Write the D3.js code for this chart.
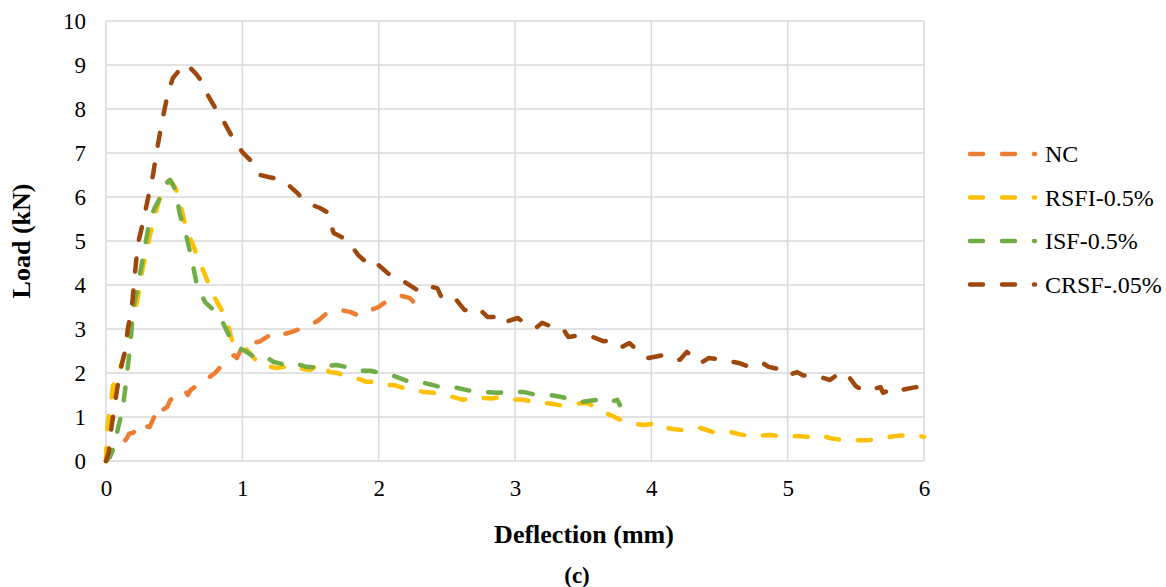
<!DOCTYPE html>
<html>
<head>
<meta charset="utf-8">
<script src="https://cdn.jsdelivr.net/npm/d3@7"></script>
<style>
  body { margin: 0; background: #fff; }
  text { font-family: "Liberation Serif", "Times New Roman", serif; fill: #000; }
</style>
</head>
<body>
<div id="chart"></div>
<script>
// Series names and colours
const seriesNames = ['NC', 'RSFI-0.5%', 'ISF-0.5%', 'CRSF-.05%'];
const seriesColors = ['#ED7D31', '#FFC000', '#70AD47', '#9E480E'];

// Tick values
const xTicks = [0, 1, 2, 3, 4, 5, 6];
const yTicks = [0, 1, 2, 3, 4, 5, 6, 7, 8, 9, 10];

// [deflection mm, load kN]
const ncData = [[0,0],[0.02,0.15],[0.05,0.25],[0.08,0.3],[0.1,0.45],[0.12,0.41],[0.15,0.5],[0.17,0.62],[0.2,0.64],[0.23,0.75],[0.25,0.86],[0.28,0.8],[0.32,0.77],[0.35,0.98],[0.37,1.09],[0.39,1.0],[0.41,1.15],[0.45,1.23],[0.47,1.38],[0.49,1.43],[0.52,1.5],[0.54,1.55],[0.58,1.6],[0.6,1.5],[0.62,1.61],[0.66,1.7],[0.69,1.77],[0.72,1.85],[0.76,1.91],[0.8,2.0],[0.84,2.14],[0.88,2.25],[0.91,2.36],[0.94,2.4],[0.96,2.34],[1.0,2.6],[1.03,2.62],[1.08,2.68],[1.13,2.72],[1.18,2.82],[1.22,2.9],[1.25,2.93],[1.3,2.88],[1.36,2.93],[1.42,3.0],[1.5,3.09],[1.56,3.2],[1.62,3.36],[1.67,3.4],[1.72,3.43],[1.79,3.39],[1.86,3.3],[1.9,3.38],[1.94,3.43],[2.0,3.5],[2.07,3.66],[2.11,3.7],[2.17,3.75],[2.23,3.7],[2.3,3.47]];

const rsfiData = [[0,0],[0.005,0.5],[0.01,0.77],[0.02,1.0],[0.03,1.23],[0.04,1.4],[0.05,1.7],[0.08,1.9],[0.12,2.25],[0.15,2.6],[0.18,2.95],[0.2,3.3],[0.23,3.65],[0.25,4.0],[0.27,4.4],[0.3,4.8],[0.32,5.1],[0.36,5.6],[0.41,6.15],[0.45,6.3],[0.48,6.35],[0.51,6.2],[0.54,5.93],[0.57,5.5],[0.6,5.18],[0.64,4.9],[0.67,4.64],[0.71,4.35],[0.75,4.05],[0.8,3.7],[0.86,3.36],[0.89,3.14],[0.93,2.68],[0.97,2.64],[1.0,2.64],[1.04,2.5],[1.08,2.36],[1.13,2.18],[1.2,2.15],[1.25,2.11],[1.3,2.14],[1.35,2.07],[1.42,2.1],[1.5,2.07],[1.57,2.23],[1.64,2.02],[1.7,2.0],[1.77,1.91],[1.84,1.88],[1.91,1.8],[1.99,1.8],[2.06,1.73],[2.12,1.72],[2.18,1.66],[2.25,1.62],[2.33,1.57],[2.4,1.55],[2.47,1.52],[2.55,1.45],[2.62,1.39],[2.7,1.45],[2.77,1.43],[2.83,1.42],[2.89,1.45],[2.97,1.4],[3.06,1.39],[3.13,1.35],[3.2,1.32],[3.27,1.3],[3.33,1.27],[3.43,1.3],[3.53,1.32],[3.6,1.2],[3.68,1.07],[3.79,0.91],[3.87,0.85],[3.94,0.82],[4.0,0.84],[4.06,0.86],[4.11,0.75],[4.17,0.72],[4.23,0.7],[4.3,0.73],[4.36,0.75],[4.45,0.66],[4.52,0.68],[4.58,0.66],[4.66,0.6],[4.75,0.55],[4.81,0.58],[4.87,0.59],[4.95,0.56],[5.02,0.55],[5.08,0.57],[5.14,0.55],[5.24,0.59],[5.31,0.52],[5.39,0.48],[5.46,0.48],[5.54,0.47],[5.61,0.48],[5.68,0.52],[5.75,0.55],[5.83,0.58],[5.92,0.59],[6.0,0.55]];

const isfData = [[0,0],[0.03,0.1],[0.05,0.25],[0.07,0.5],[0.09,0.77],[0.12,1.16],[0.14,1.61],[0.16,2.14],[0.18,2.68],[0.2,3.5],[0.23,3.89],[0.25,4.27],[0.29,4.95],[0.32,5.48],[0.36,5.77],[0.4,6.0],[0.45,6.34],[0.47,6.39],[0.51,6.16],[0.54,5.63],[0.59,5.1],[0.63,4.57],[0.67,3.95],[0.73,3.6],[0.79,3.43],[0.84,3.25],[0.88,3.0],[0.91,2.8],[0.96,2.6],[1.03,2.48],[1.08,2.38],[1.15,2.41],[1.23,2.25],[1.3,2.2],[1.35,2.16],[1.41,2.2],[1.47,2.14],[1.55,2.12],[1.62,2.16],[1.69,2.18],[1.79,2.12],[1.86,2.05],[1.94,2.05],[2.01,2.0],[2.08,1.97],[2.14,1.9],[2.21,1.82],[2.3,1.8],[2.38,1.74],[2.45,1.68],[2.55,1.68],[2.65,1.61],[2.74,1.57],[2.81,1.56],[2.87,1.55],[2.96,1.57],[3.06,1.57],[3.16,1.5],[3.26,1.5],[3.35,1.45],[3.42,1.38],[3.48,1.34],[3.6,1.39],[3.68,1.32],[3.75,1.39],[3.77,1.27]];

const crsfData = [[0,0],[0.02,0.2],[0.04,0.77],[0.06,1.2],[0.08,1.6],[0.1,2.0],[0.14,2.5],[0.16,3.0],[0.19,3.5],[0.21,4.2],[0.235,4.95],[0.27,5.4],[0.31,6.0],[0.345,6.5],[0.37,7.0],[0.41,7.7],[0.45,8.3],[0.49,8.7],[0.55,8.93],[0.6,8.84],[0.62,8.93],[0.66,8.8],[0.71,8.6],[0.75,8.3],[0.81,7.98],[0.87,7.68],[0.93,7.34],[1.0,7.02],[1.08,6.77],[1.13,6.5],[1.2,6.45],[1.28,6.4],[1.34,6.27],[1.4,6.1],[1.45,5.93],[1.51,5.82],[1.57,5.75],[1.62,5.66],[1.67,5.18],[1.77,5.02],[1.85,4.68],[1.96,4.38],[2.0,4.45],[2.1,4.18],[2.17,4.11],[2.28,3.89],[2.32,4.0],[2.43,3.93],[2.47,3.66],[2.57,3.66],[2.63,3.43],[2.73,3.48],[2.8,3.27],[2.89,3.27],[2.91,3.14],[3.02,3.25],[3.06,3.16],[3.15,3.02],[3.2,3.14],[3.27,3.05],[3.35,3.02],[3.39,2.82],[3.48,2.86],[3.57,2.82],[3.65,2.72],[3.72,2.75],[3.79,2.6],[3.84,2.68],[3.92,2.45],[3.98,2.34],[4.09,2.41],[4.14,2.34],[4.21,2.3],[4.26,2.48],[4.36,2.22],[4.42,2.34],[4.53,2.3],[4.65,2.22],[4.72,2.14],[4.82,2.22],[4.86,2.14],[4.96,2.07],[5.0,1.95],[5.07,2.02],[5.11,1.95],[5.24,1.91],[5.31,1.84],[5.39,2.02],[5.44,1.95],[5.5,1.7],[5.55,1.61],[5.6,1.61],[5.68,1.68],[5.7,1.55],[5.79,1.66],[5.83,1.61],[5.94,1.68],[5.99,1.66]];

const allSeries = [ncData, rsfiData, isfData, crsfData];

// Layout
const W = 1166, H = 587;
const margin = { top: 21, left: 106 };
const plotW = 818, plotH = 440;

const svg = d3.select('#chart').append('svg')
  .attr('width', W)
  .attr('height', H);

const g = svg.append('g')
  .attr('transform', `translate(${margin.left},${margin.top})`);

const x = d3.scaleLinear().domain([0, 6]).range([0, plotW]);
const y = d3.scaleLinear().domain([0, 10]).range([plotH, 0]);

// Gridlines
g.selectAll('.hgrid')
  .data(yTicks)
  .enter()
  .append('line')
  .attr('x1', 0).attr('x2', plotW)
  .attr('y1', d => y(d)).attr('y2', d => y(d))
  .attr('stroke', '#d9d9d9')
  .attr('stroke-width', 1.5);

g.selectAll('.vgrid')
  .data(xTicks)
  .enter()
  .append('line')
  .attr('x1', d => x(d)).attr('x2', d => x(d))
  .attr('y1', 0).attr('y2', plotH)
  .attr('stroke', '#d9d9d9')
  .attr('stroke-width', 1.5);

// Axes (labels only, lines drawn as grid)
const xAxis = g.append('g')
  .attr('transform', `translate(0,${plotH})`)
  .call(d3.axisBottom(x).tickValues(xTicks).tickSize(0).tickPadding(19).tickFormat(d3.format('d')));
xAxis.select('.domain').remove();
xAxis.selectAll('text').style('font-size', '23px');

const yAxis = g.append('g')
  .call(d3.axisLeft(y).tickValues(yTicks).tickSize(0).tickPadding(20).tickFormat(d3.format('d')));
yAxis.select('.domain').remove();
yAxis.selectAll('text').style('font-size', '23px');

// Series lines
const line = d3.line()
  .x(d => x(d[0]))
  .y(d => y(d[1]));

g.selectAll('.series')
  .data(allSeries)
  .enter()
  .append('path')
  .attr('d', line)
  .attr('fill', 'none')
  .attr('stroke', (d, i) => seriesColors[i])
  .attr('stroke-width', 4.5)
  .attr('stroke-linecap', 'round')
  .attr('stroke-linejoin', 'round')
  .attr('stroke-dasharray', '13,19');

// Axis titles
svg.append('text')
  .attr('x', 584)
  .attr('y', 543)
  .attr('text-anchor', 'middle')
  .style('font-size', '26px')
  .style('font-weight', 'bold')
  .text('Deflection (mm)');

svg.append('text')
  .attr('transform', 'translate(30,241) rotate(-90)')
  .attr('text-anchor', 'middle')
  .style('font-size', '26px')
  .style('font-weight', 'bold')
  .text('Load (kN)');

svg.append('text')
  .attr('x', 577)
  .attr('y', 583)
  .attr('text-anchor', 'middle')
  .style('font-size', '23px')
  .style('font-weight', 'bold')
  .text('(c)');

// Legend
const legend = svg.append('g')
  .attr('transform', 'translate(970,154)');

seriesNames.forEach((name, i) => {
  const row = legend.append('g').attr('transform', `translate(0,${i * 43.5})`);
  row.append('line')
    .attr('x1', 0).attr('x2', 65)
    .attr('y1', 0).attr('y2', 0)
    .attr('stroke', seriesColors[i])
    .attr('stroke-width', 4.5)
    .attr('stroke-linecap', 'round')
    .attr('stroke-dasharray', '13,19');
  row.append('text')
    .attr('x', 75)
    .attr('y', 0)
    .attr('dy', '0.35em')
    .style('font-size', '24px')
    .text(name);
});
</script>
</body>
</html>
